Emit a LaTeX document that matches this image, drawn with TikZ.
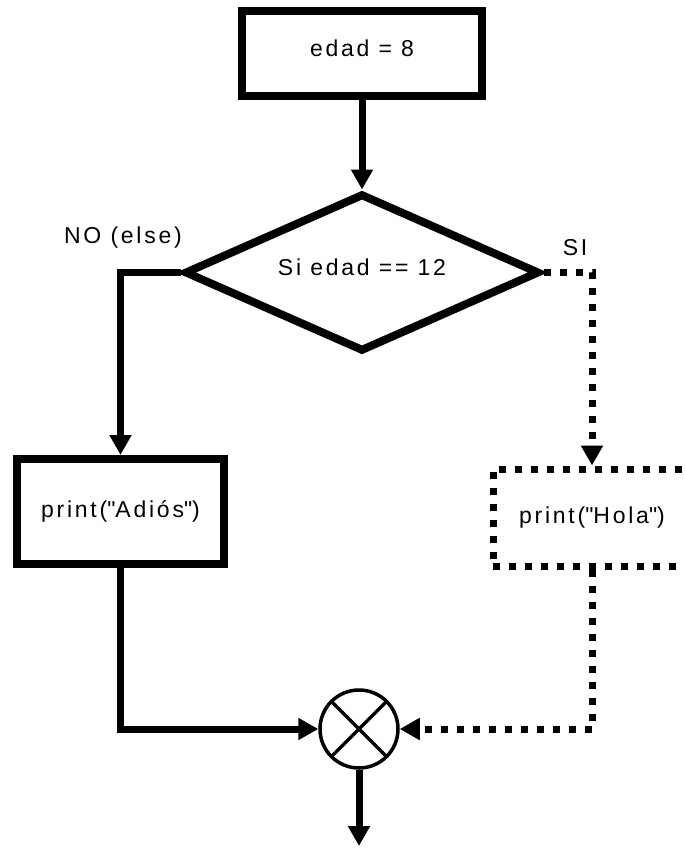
\documentclass[tikz,border=0pt]{standalone}
\usepackage{fontspec}
\setmainfont{Liberation Sans}[LetterSpace=12]
\usetikzlibrary{arrows.meta,shapes.geometric}
\begin{document}
\begin{tikzpicture}[x=1pt,y=-1pt,
  txt/.style={font=\fontsize{23}{27}\selectfont},
  solidbox/.style={draw, rectangle, line width=8pt, inner sep=0pt, txt},
  dotbox/.style={draw, rectangle, line width=7pt, dash pattern=on 7pt off 9pt, inner sep=0pt, txt},
  conn/.style={line width=7pt, -{Triangle[length=20pt,width=21pt]}},
  dotconn/.style={conn, dash pattern=on 7pt off 9pt}]
\clip (0,0) rectangle (685,849);
\node[solidbox, minimum width=240pt, minimum height=85pt, text height=17pt, text depth=12pt] (init) at (362,53.5) {edad = 8};
\node[diamond, shape aspect=2.3, draw, line width=8pt, minimum width=355pt, minimum height=158pt, inner sep=0pt, text height=17pt, text depth=12pt, txt] (cond) at (362,272.5) {Si edad == 12};
\node[solidbox, minimum width=207pt, minimum height=105pt] (adios) at (120.5,511.5) {print(\textquotedbl Adiós\textquotedbl)};
\node[dotbox, minimum width=198pt, minimum height=97pt] (hola) at (592,517.5) {print(\textquotedbl Hola\textquotedbl)};
\node[circle, draw, line width=3.5pt, minimum size=78pt, inner sep=0pt] (join) at (359,729) {};
\draw[line width=3.5pt] (join.center) ++(45:39pt) -- ++(225:78pt);
\draw[line width=3.5pt] (join.center) ++(135:39pt) -- ++(315:78pt);
\node[txt] (nolbl) at (123,238) {NO (else)};
\node[txt] (silbl) at (575,248) {SI};
\coordinate (out) at (359,846);
\draw[conn] (init) -- (cond);
\draw[conn] (cond.west) -| (adios.north);
\draw[dotconn] (cond.east) -| (hola.north);
\draw[conn] (adios.south) |- (join.west);
\draw[dotconn] (hola.south) |- (join.east);
\draw[conn] (join.south) -- (out);
\end{tikzpicture}
\end{document}
